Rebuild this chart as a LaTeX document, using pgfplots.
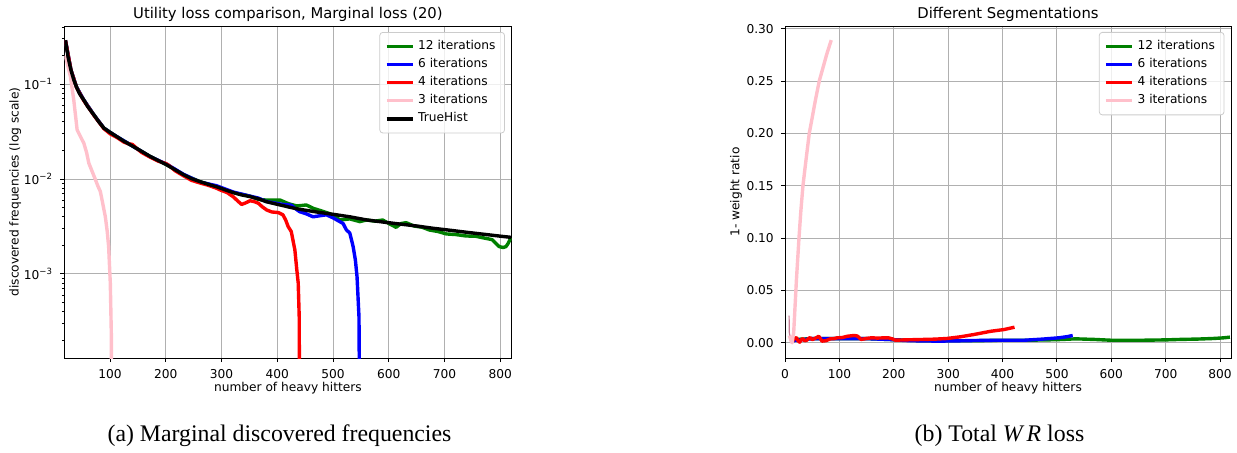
\documentclass[border=0pt]{standalone}
\usepackage{fontspec}
\setmainfont{DejaVu Sans}
\newfontfamily\capfont{Liberation Serif}
\usepackage{pgfplots}
\pgfplotsset{compat=1.18}
\definecolor{mgreen}{RGB}{0,128,0}
\definecolor{mblue}{RGB}{0,0,255}
\definecolor{mred}{RGB}{255,0,0}
\definecolor{mpink}{RGB}{255,192,203}
\definecolor{mauve}{RGB}{200,125,150}
\definecolor{gridc}{RGB}{176,176,176}
\definecolor{legc}{RGB}{204,204,204}
\newcommand{\tf}{\fontsize{6.1}{7.2}\selectfont}
\pgfplotsset{
  mystyle/.style={
    scale only axis,
    height=166pt,
    grid=major,
    major grid style={gridc, line width=0.48pt},
    axis line style={line width=0.48pt},
    tick align=outside,
    xtick pos=bottom, ytick pos=left,
    major tick length=2.1pt,
    minor tick length=1.2pt,
    every tick/.style={black, line width=0.48pt},
    tick label style={font=\tf},
    /pgf/number format/assume math mode=true,
    every axis x label/.style={at={([yshift=-15pt]axis description cs:0.5,0)}, anchor=center, font=\tf},
    every axis y label/.style={at={([xshift=-24.5pt]axis description cs:0,0.5)}, rotate=90, anchor=center, font=\tf},
    every axis title/.style={at={([yshift=3.85pt]axis description cs:0.5,1)}, anchor=base, font=\fontsize{7.4}{8.5}\selectfont},
    legend style={at={(1,1)}, anchor=north east, xshift=-3.3pt, yshift=-3pt,
      draw=legc, line width=0.4pt, rounded corners=1.5pt, fill=white, fill opacity=0.8, text opacity=1,
      font=\tf, row sep=-1.1pt, inner xsep=2.5pt, inner ysep=2pt},
    legend cell align=left,
    legend image code/.code={\draw[#1] (0pt,0pt) -- (13pt,0pt);},
    every axis plot/.append style={line width=1.7pt, line join=round},
    xtick={100,200,...,800},
  }
}
\begin{document}
\begin{tikzpicture}
\useasboundingbox (0,0) rectangle (618.5pt,226pt);
% ---------------- left -----------------
\begin{axis}[mystyle,
  at={(32.15pt,47pt)}, anchor=south west, width=223.6pt,
  ymode=log, xmin=18, xmax=820, ymin=1.3e-4, ymax=0.41,
  ytick={1e-3,1e-2,1e-1},
  yticklabels={10\textsuperscript{−3},10\textsuperscript{−2},10\textsuperscript{−1}},
  minor ytick={2e-4,3e-4,4e-4,5e-4,6e-4,7e-4,8e-4,9e-4,2e-3,3e-3,4e-3,5e-3,6e-3,7e-3,8e-3,9e-3,2e-2,3e-2,4e-2,5e-2,6e-2,7e-2,8e-2,9e-2,2e-1,3e-1,4e-1},
  title={Utility loss comparison, Marginal loss (20)},
  xlabel={number of heavy hitters},
  ylabel={discovered frequencies (log scale)},
]
\addplot[mgreen] coordinates {(20,0.29)(30,0.14)(40,0.093)(53,0.068)(71,0.0475)(89,0.0344)(112,0.028)(142,0.022)(172,0.0173)(202,0.0141)(232,0.0111)(261,0.0094)(291,0.0083)(321,0.0072)(351,0.0066)(366,0.0061)(381,0.0060)(395,0.0060)(405,0.0060)(420,0.0055)(435,0.0052)(452,0.00533)(465,0.0049)(480,0.0046)(495,0.0043)(505,0.0040)(512,0.0037)(530,0.0038)(548,0.00356)(560,0.0037)(575,0.0036)(589,0.0037)(600,0.0034)(613,0.0031)(622,0.0034)(631,0.00347)(645,0.0032)(660,0.0031)(673,0.0029)(688,0.0028)(703,0.00264)(720,0.0026)(739,0.00251)(755,0.0025)(774,0.00237)(785,0.0023)(792,0.0021)(798,0.00194)(805,0.0019)(810,0.00194)(814,0.0021)(817,0.00228)(819,0.0024)};
\addlegendentry{12 iterations}
\addplot[mblue] coordinates {(20,0.29)(30,0.14)(40,0.093)(53,0.068)(71,0.0475)(89,0.0344)(100,0.031)(112,0.028)(142,0.022)(172,0.0172)(202,0.0143)(232,0.0112)(261,0.0093)(291,0.0085)(321,0.0073)(351,0.0066)(366,0.0063)(380,0.0058)(395,0.0056)(410,0.0054)(425,0.0053)(432,0.0049)(440,0.00453)(452,0.0043)(464,0.0040)(476,0.0041)(488,0.0042)(500,0.0039)(512,0.00356)(518,0.0034)(524,0.0029)(530,0.0027)(536,0.00194)(540,0.0014)(543,0.00093)(546.5,0.00035)(548,0.00001)};
\addlegendentry{6 iterations}
\addplot[mred] coordinates {(20,0.29)(30,0.14)(40,0.092)(53,0.067)(71,0.047)(89,0.034)(100,0.030)(112,0.0275)(125,0.0245)(133,0.0235)(140,0.0232)(148,0.021)(157,0.019)(172,0.0170)(187,0.0154)(200,0.0146)(205,0.0140)(217,0.0122)(232,0.0108)(246,0.0097)(261,0.0091)(276,0.0086)(291,0.0080)(297,0.0077)(310,0.0072)(321,0.0065)(330,0.0058)(336,0.0054)(343,0.0056)(351,0.0059)(358,0.0058)(366,0.00556)(373,0.0051)(381,0.00472)(390,0.0045)(402,0.00443)(410,0.0042)(415,0.0037)(419.5,0.00315)(425,0.0028)(431.5,0.00179)(435,0.0011)(437.5,0.0008)(439.3,0.00035)(440,0.00001)};
\addlegendentry{4 iterations}
\addplot[mpink] coordinates {(20,0.2)(25,0.15)(29,0.12)(35,0.068)(41,0.033)(47,0.028)(53,0.0239)(58,0.019)(62,0.0147)(68,0.012)(74,0.0098)(78,0.0085)(82.6,0.0074)(87,0.0055)(91.6,0.0040)(95,0.0028)(97.5,0.00194)(100.5,0.0008)(102.3,0.000236)(103,0.00001)};
\addlegendentry{3 iterations}
\addplot[black] coordinates {(20,0.29)(25,0.19)(30,0.14)(35,0.111)(40,0.093)(45,0.080)(53,0.068)(60,0.058)(71,0.0475)(80,0.040)(89,0.0344)(100,0.031)(112,0.028)(125,0.025)(142,0.022)(157,0.0195)(172,0.0173)(187,0.0156)(202,0.0141)(217,0.0125)(232,0.0111)(246,0.0101)(261,0.0094)(276,0.0088)(291,0.0083)(306,0.0077)(321,0.0072)(336,0.0068)(351,0.00653)(366,0.0062)(380,0.00578)(395,0.0055)(410,0.00525)(425,0.0050)(440,0.0048)(470,0.0045)(500,0.00425)(530,0.0040)(560,0.00371)(590,0.00352)(619,0.00336)(650,0.0032)(679,0.00303)(709,0.00289)(739,0.00275)(770,0.00262)(800,0.0025)(819,0.00243)};
\addlegendentry{TrueHist}
\end{axis}
% ---------------- right -----------------
\begin{axis}[mystyle,
  at={(392.5pt,47pt)}, anchor=south west, width=223pt,
  xmin=0, xmax=820, ymin=-0.0145, ymax=0.3025,
  xtick={0,100,...,800},
  ytick={0,0.05,...,0.30},
  yticklabel style={/pgf/number format/.cd, fixed, fixed zerofill, precision=2},
  title={Different Segmentations},
  xlabel={number of heavy hitters},
  ylabel={1- weight ratio},
]
\addplot[mgreen] coordinates {(10,0.003)(50,0.004)(100,0.004)(150,0.004)(200,0.003)(250,0.002)(300,0.002)(350,0.002)(400,0.0025)(450,0.0025)(500,0.003)(535,0.0038)(570,0.0032)(598,0.0025)(630,0.0025)(661,0.0025)(700,0.0028)(724,0.0032)(760,0.0036)(786,0.0041)(805,0.0047)(818,0.0054)};
\addlegendentry{12 iterations}
\addplot[mblue] coordinates {(15,0.002)(50,0.004)(100,0.004)(150,0.004)(200,0.003)(221,0.0022)(250,0.0018)(284,0.0016)(320,0.0019)(347,0.0022)(380,0.0024)(410,0.0025)(441,0.0025)(472,0.0035)(504,0.0048)(520,0.006)(529,0.007)};
\addlegendentry{6 iterations}
\addplot[mred] coordinates {(14,0.0016)(17,0.004)(21,0.005)(24,0.002)(27,0.0006)(30,0.003)(33,0.004)(36,0.002)(40,0.0025)(43,0.004)(46,0.005)(50,0.003)(54,0.004)(58,0.005)(62,0.0063)(65,0.004)(68,0.0016)(75,0.002)(83.5,0.0038)(90,0.004)(96,0.0048)(105,0.005)(115,0.0063)(127,0.007)(133,0.0065)(140,0.0032)(150,0.0042)(159,0.0048)(170,0.0045)(180,0.0047)(190,0.0048)(197,0.0038)(203,0.0025)(220,0.0028)(253,0.0032)(275,0.0035)(297,0.0041)(322,0.0057)(347,0.0079)(378,0.011)(403,0.0127)(422,0.0149)};
\addlegendentry{4 iterations}
\addplot[mpink] coordinates {(8,0.007)(11,0.002)(13,0.0)(16,0.01)(18,0.03)(21,0.06)(25.7,0.10)(29,0.125)(33,0.15)(38,0.172)(44.6,0.20)(50,0.215)(56,0.232)(63,0.25)(70,0.263)(77,0.276)(85,0.289)};
\addlegendentry{3 iterations}
\addplot[mauve, line width=0.6pt, forget plot] coordinates {(7.5,0.026)(8,0.009)(9,0.007)};
\end{axis}
% captions
\node[anchor=base, font=\capfont\fontsize{11.9}{14}\selectfont] at (139.75pt,5.5pt) {(a) Marginal discovered frequencies};
\node[anchor=base, font=\capfont\fontsize{11.9}{14}\selectfont] at (499.75pt,5.5pt) {(b) Total {\itshape W\,R} loss};
\end{tikzpicture}
\end{document}
